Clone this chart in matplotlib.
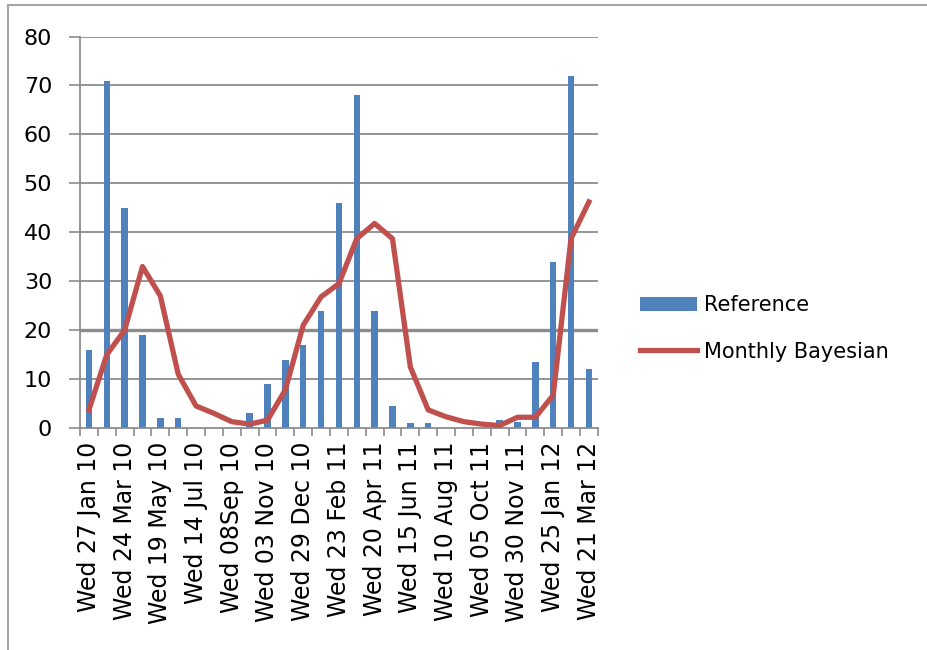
import numpy as np
import matplotlib
matplotlib.use("Agg")
import matplotlib.pyplot as plt
from matplotlib.lines import Line2D

plt.rcParams['font.family'] = ['DejaVu Sans']

# 4-weekly samples, Wed 27 Jan 2010 .. Wed 21 Mar 2012
reference = [16, 71, 45, 19, 2, 2, 0, 0, 0, 3, 9, 14, 17, 24, 46,
             68, 24, 4.5, 1, 1, 0, 0, 0, 1.6, 1.2, 13.5, 34, 72, 12]
monthly_bayesian = [3.7, 15, 20, 33, 27, 11, 4.5, 3, 1.3, 0.8, 1.6, 7.8, 21, 26.8, 29.5,
                    38.7, 41.8, 38.7, 12.5, 3.7, 2.3, 1.3, 0.8, 0.5, 2.2, 2.2, 6.7, 38.7, 46.2]
date_labels = ["Wed 27 Jan 10", "Wed 24 Mar 10", "Wed 19 May 10", "Wed 14 Jul 10",
               "Wed 08Sep 10", "Wed 03 Nov 10", "Wed 29 Dec 10", "Wed 23 Feb 11",
               "Wed 20 Apr 11", "Wed 15 Jun 11", "Wed 10 Aug 11", "Wed 05 Oct 11",
               "Wed 30 Nov 11", "Wed 25 Jan 12", "Wed 21 Mar 12"]

BLUE = "#4F81BD"
RED = "#C0504D"
GRID = "#8C8C8C"

fig = plt.figure(figsize=(9.28, 6.5), dpi=100)
ax = fig.add_axes([0.0862, 0.3415, 0.558, 0.6023])

x = np.arange(len(reference))
bars = ax.bar(x, reference, width=0.36, color=BLUE, zorder=2)
line, = ax.plot(x, monthly_bayesian, color=RED, lw=3.8, zorder=3,
                solid_joinstyle="round")

ax.set_xlim(-0.5, len(reference) - 0.5)
ax.set_ylim(0, 80)
ax.set_yticks(range(0, 81, 10))
for v in range(10, 81, 10):
    ax.axhline(v, color=GRID, lw=2.4 if v == 20 else 1.3, zorder=1)

# labels every second sample, tick marks on category boundaries
ax.set_xticks(x[::2])
ax.set_xticklabels(date_labels, rotation=90)
ax.set_xticks(np.arange(-0.5, len(reference)), minor=True)
ax.tick_params(axis="x", which="major", length=0, pad=10, labelsize=17)
ax.tick_params(axis="x", which="minor", length=6, width=1.2, color=GRID)
ax.tick_params(axis="y", length=8, width=1.2, color=GRID, labelsize=16, pad=12)

for side in ["top", "right"]:
    ax.spines[side].set_visible(False)
for side in ["left", "bottom"]:
    ax.spines[side].set_color(GRID)
    ax.spines[side].set_linewidth(1.3)

fig.legend([bars, line], ["Reference", "Monthly Bayesian"],
           loc="center left", bbox_to_anchor=(0.6897, 0.4946), frameon=False,
           fontsize=15, handlelength=2.75, handletextpad=0.3, labelspacing=1.25,
           borderpad=0, borderaxespad=0)

# chart frame
fig.add_artist(Line2D([0.009, 0.009], [0, 0.992], transform=fig.transFigure,
                      color="#A6A6A6", lw=1.5))
fig.add_artist(Line2D([0.009, 1], [0.992, 0.992], transform=fig.transFigure,
                      color="#A6A6A6", lw=1.5))

fig.savefig("out.png", dpi=100)
